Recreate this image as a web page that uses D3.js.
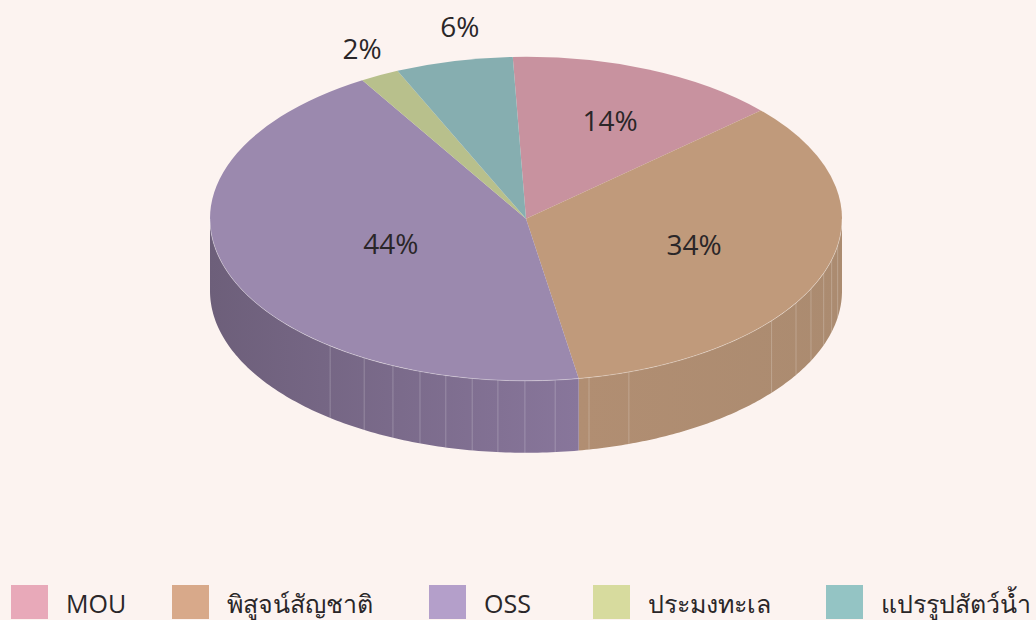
<!DOCTYPE html>
<html><head><meta charset="utf-8">
<script src="https://cdn.jsdelivr.net/npm/d3@7"></script>
<style>html,body{margin:0;padding:0;background:#fcf3f0;overflow:hidden}svg{display:block}text{font-family:"Open Sans","Noto Sans",sans-serif;fill:#2a2628}</style>
</head><body><svg id="c" width="1036" height="620"></svg>
<script>
const categories = ["MOU","พิสูจน์สัญชาติ","OSS","ประมงทะเล","แปรรูปสัตว์น้ำ"];
const values = [14,34,44,2,6];
const labels = ["14%","34%","44%","2%","6%"];
const legendColors = ["#e8a9b9","#d8a98a","#b49fca","#d7db9e","#94c4c4"];
const topColors = ["#c8929f","#c09a7b","#9b89ae","#b8c08c","#86aeb0"];
const wallFrom = ["#a67a85","#ab8b70","#6d5f7a","#9aa176","#6f9294"];
const wallTo = ["#a67a85","#b18e72","#88769b","#9aa176","#6f9294"];
const seamDegrees = [99.5,104.7,109.6,115.6,121.3,129,161,168.5,174.7,180.2,185.1,189.8,194.7,199.6,204.9,210.8,218.3];
// layout
const cx=526, cy=218.8, rx=316, ry=162, depth=72;
const startDeg=-2.4;
const labelFactors=[[.686,.66],[.563,.47],[.456,.42],[1.12,1.19],[.916,1.225]];
const legendX=[11,172,429,593,826];
const rad=d=>d*Math.PI/180;

const svg=d3.select("#c");
svg.append("rect").attr("width",1036).attr("height",620).attr("fill","#fcf3f0");
const defs=svg.append("defs");

const pie=d3.pie().sort(null).value(d=>d).startAngle(rad(startDeg)).endAngle(rad(startDeg+360));
const arcs=pie(values);
const px=t=>cx+rx*Math.sin(t), py=t=>cy-ry*Math.cos(t);

// walls
const wallLine=d3.line().x(d=>d[0]).y(d=>d[1]);
const vis0=Math.PI/2, vis1=Math.PI*1.5;
const walls=svg.append("g");
arcs.forEach((a,i)=>{
  const t0=Math.max(a.startAngle,vis0), t1=Math.min(a.endAngle,vis1);
  if(t1<=t0) return;
  const ts=d3.range(0,121).map(k=>t0+(t1-t0)*k/120);
  const pts=ts.map(t=>[px(t),py(t)]).concat(ts.slice().reverse().map(t=>[px(t),py(t)+depth]));
  const id="w"+i;
  const g=defs.append("linearGradient").attr("id",id).attr("gradientUnits","userSpaceOnUse")
    .attr("x1",px(vis1)).attr("x2",Math.max(px(t0),px(t1))).attr("y1",0).attr("y2",0);
  if(i===1){g.attr("x1",px(t1)).attr("x2",px(t0));}
  g.append("stop").attr("offset",0).attr("stop-color",i===1?wallTo[i]:wallFrom[i]);
  g.append("stop").attr("offset",1).attr("stop-color",i===1?wallFrom[i]:wallTo[i]);
  walls.append("path").attr("d",wallLine(pts)+"Z").attr("fill",`url(#${id})`);
});
// seams between wall facets
walls.selectAll("line").data(seamDegrees).join("line")
  .attr("x1",d=>px(rad(d))).attr("x2",d=>px(rad(d)))
  .attr("y1",d=>py(rad(d))).attr("y2",d=>py(rad(d))+depth)
  .attr("stroke","#fff").attr("stroke-opacity",.22).attr("stroke-width",1);

// top
const arc=d3.arc().innerRadius(0).outerRadius(rx);
svg.append("g").attr("transform",`translate(${cx},${cy}) scale(1,${ry/rx})`)
  .selectAll("path").data(arcs).join("path")
  .attr("d",arc).attr("fill",(d,i)=>topColors[i]);
// rim highlight
const rimTs=d3.range(0,181).map(k=>vis0+(vis1-vis0)*k/180);
svg.append("path").attr("d",wallLine(rimTs.map(t=>[px(t),py(t)])))
  .attr("fill","none").attr("stroke","#fff").attr("stroke-opacity",.3).attr("stroke-width",1);

// labels
svg.append("g").selectAll("text").data(arcs).join("text")
  .attr("x",(d,i)=>cx+rx*labelFactors[i][0]*Math.sin((d.startAngle+d.endAngle)/2))
  .attr("y",(d,i)=>cy-ry*labelFactors[i][1]*Math.cos((d.startAngle+d.endAngle)/2))
  .attr("text-anchor","middle").attr("dominant-baseline","central")
  .attr("font-size",28).text((d,i)=>labels[i]);

// legend
const leg=svg.append("g").selectAll("g").data(categories).join("g")
  .attr("transform",(d,i)=>`translate(${legendX[i]},585)`);
leg.append("rect").attr("width",37).attr("height",34).attr("fill",(d,i)=>legendColors[i]);
leg.append("text").attr("x",55).attr("y",27.5).attr("font-size",25).text(d=>d);
</script></body></html>
